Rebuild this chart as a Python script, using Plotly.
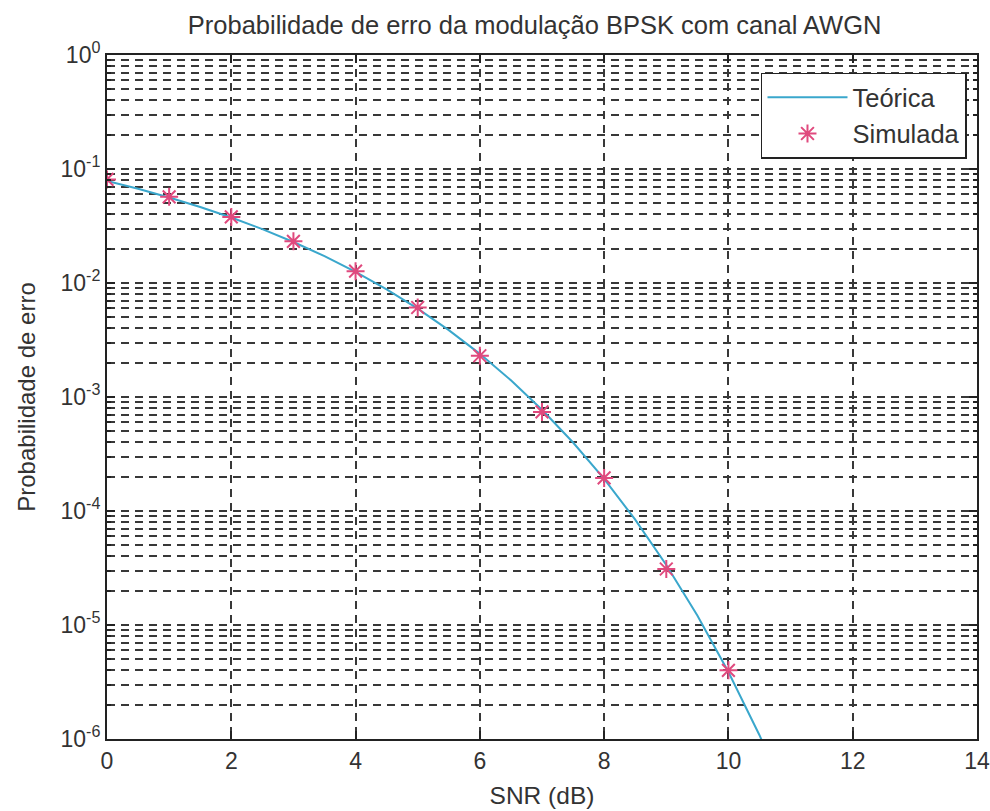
import plotly.graph_objects as go

# Theoretical curve (BPSK over AWGN)
snr_theory = [0, 0.5, 1, 1.5, 2, 2.5, 3, 3.5, 4, 4.5, 5, 5.5, 6, 6.5, 7, 7.5, 8, 8.5, 9, 9.5, 10, 10.5, 11]
pe_theory = [0.0786, 0.0671, 0.0563, 0.0464, 0.0375, 0.0297, 0.0229, 0.0172, 0.0125, 0.00879,
             0.00595, 0.00386, 0.00239, 0.00140, 7.73e-4, 3.99e-4, 1.91e-4, 8.40e-5, 3.36e-5,
             1.21e-5, 3.87e-6, 1.08e-6, 2.61e-7]

# Simulated points
snr_sim = [0, 1, 2, 3, 4, 5, 6, 7, 8, 9, 10]
pe_sim = [0.081, 0.057, 0.038, 0.0232, 0.0127, 0.0061, 0.0023, 7.4e-4, 1.95e-4, 3.1e-5, 4.0e-6]

x_ticks = [0, 2, 4, 6, 8, 10, 12, 14]
y_major = [1e-6, 1e-5, 1e-4, 1e-3, 1e-2, 1e-1, 1]
y_major_text = ["10<sup>-6</sup>", "10<sup>-5</sup>", "10<sup>-4</sup>", "10<sup>-3</sup>",
                "10<sup>-2</sup>", "10<sup>-1</sup>", "10<sup>0</sup>"]
y_minor = [m * d for d in [1e-6, 1e-5, 1e-4, 1e-3, 1e-2, 1e-1] for m in range(2, 10)]

FONT = "Liberation Sans, Arial, sans-serif"
TXT = "#333333"
GRID = "#383838"

fig = go.Figure()
fig.add_trace(go.Scatter(
    x=snr_theory, y=pe_theory, mode="lines", name="Teórica",
    line=dict(color="#3aa7cc", width=2), legendgroup="a"))
fig.add_trace(go.Scatter(
    x=snr_sim, y=pe_sim, mode="markers", name="Simulada", legendgroup="b",
    marker=dict(symbol="asterisk-open", size=15, color="#e04a7e",
                line=dict(color="#e04a7e", width=2))))

fig.update_layout(
    width=990, height=811,
    margin=dict(l=107, r=13, t=55, b=72, autoexpand=False),
    paper_bgcolor="white", plot_bgcolor="white",
    font=dict(family=FONT, color=TXT, size=23),
    title=dict(text="Probabilidade de erro da modulação BPSK com canal AWGN",
               x=0.54, xref="container", xanchor="center",
               y=1 - 25 / 811, yref="container", yanchor="middle",
               font=dict(size=25.5, color=TXT, family=FONT)),
    showlegend=True,
    legend=dict(x=0.9885, y=0.974, xanchor="right", yanchor="top",
                bgcolor="white", bordercolor="#222", borderwidth=1.5,
                font=dict(size=25.5, color=TXT, family=FONT),
                traceorder="grouped", tracegroupgap=0, itemwidth=80),
)

fig.update_xaxes(
    range=[0, 14], tickvals=x_ticks, ticktext=[str(v) for v in x_ticks],
    ticks="inside", ticklen=8, tickcolor="#222", tickwidth=1.5,
    showline=True, linecolor="#222", linewidth=2, mirror="ticks",
    showgrid=True, gridcolor=GRID, gridwidth=1.5, griddash="8px,6px",
    zeroline=False, tickfont=dict(size=23, color=TXT), automargin=False,
    title=dict(text="SNR (dB)", font=dict(size=24.5, color=TXT), standoff=14),
)
fig.update_yaxes(
    type="log", range=[-6, 0], tickmode="array", tickvals=y_major, ticktext=y_major_text,
    ticks="inside", ticklen=8, tickcolor="#222", tickwidth=1.5,
    showline=True, linecolor="#222", linewidth=2, mirror="ticks",
    showgrid=True, gridcolor=GRID, gridwidth=1.5, griddash="8px,6px",
    zeroline=False, tickfont=dict(size=23, color=TXT), automargin=False,
    minor=dict(tickmode="array", tickvals=y_minor, ticks="inside", ticklen=4,
               tickcolor="#222", showgrid=True, gridcolor=GRID, gridwidth=1.5,
               griddash="8px,6px"),
    title=dict(text="Probabilidade de erro", font=dict(size=24, color=TXT), standoff=18),
)

fig.write_html("out.html")
